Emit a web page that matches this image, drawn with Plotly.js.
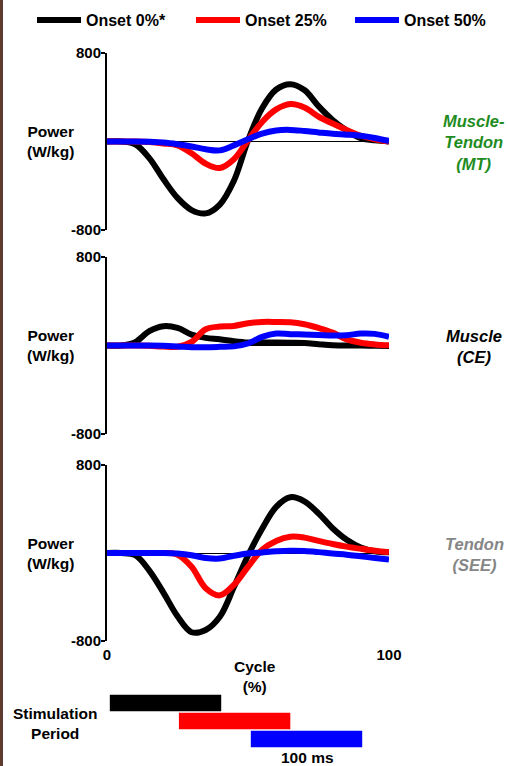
<!DOCTYPE html>
<html><head><meta charset="utf-8">
<script src="https://cdn.plot.ly/plotly-3.0.1.min.js"></script>
<style>html,body{margin:0;padding:0;background:#fff;} #chart{width:508px;height:766px;}</style>
</head><body><div id="chart"></div>
<script>
// ---- data ----
const cycle = [0,5,10,15,20,25,30,35,40,45,50,55,60,65,70,75,80,85,90,95,100];
const seriesNames = ['Onset 0%*','Onset 25%','Onset 50%'];
// Muscle-Tendon (MT) power, W/kg
const mt0  = [0,0,-25,-150,-340,-510,-620,-650,-570,-355,10,300,470,518,465,320,195,100,30,10,0];
const mt25 = [0,0,0,-5,-18,-36,-107,-200,-240,-160,10,177,290,338,307,225,162,104,52,20,0];
const mt50 = [0,0,0,-3,-10,-25,-45,-70,-80,-35,20,72,100,105,95,82,70,62,52,32,5];
// Muscle (CE) power
const ce0  = [0,0,30,129,174,159,99,69,57,39,27,27,27,25,22,12,3,0,0,-3,-5];
const ce25 = [0,0,0,-3,-10,-12,33,147,171,177,201,213,213,210,192,159,117,55,25,10,2];
const ce50 = [0,0,0,0,-3,-8,-15,-15,-12,-8,18,78,108,102,100,96,90,93,108,105,78];
// Tendon (SEE) power
const see0  = [0,0,-20,-160,-360,-575,-720,-700,-580,-310,-23,220,420,507,470,360,225,120,50,15,6];
const see25 = [0,0,0,0,0,-15,-125,-320,-385,-290,-125,30,110,148,140,110,82,58,38,20,6];
const see50 = [0,0,0,0,0,-5,-20,-45,-50,-25,-5,5,15,20,18,8,-5,-15,-30,-45,-60];
// Stimulation period (in % cycle)
const stimStart = [1, 25.5, 51];
const stimEnd   = [40.5, 65, 90.5];
const yTickVals = [-800, 800];
const yTickText = ['-800', '800'];
const xTickVals = [0, 100];
const xTickText = ['0', '100'];
const panelLabels = ['Muscle-<br>Tendon<br>(MT)', 'Muscle<br>(CE)', 'Tendon<br>(SEE)'];

// ---- styling ----
const W = 508, H = 766;
const px = v => v / W;
const py = v => 1 - v / H;
const FONT = 'Liberation Sans, Arial, sans-serif';
const colors = ['#000000', '#ff0000', '#0000ff'];
const labelColors = ['#1e8c1e', '#000000', '#868686'];
const legendWidths = [100, 100, 84];
const panelPx = [[53, 230], [257, 434], [465, 641]];
const panelData = [[mt0, mt25, mt50], [ce0, ce25, ce50], [see0, see25, see50]];

const traces = [];
panelData.forEach((set, p) => {
  set.forEach((ys, s) => {
    traces.push({
      type: 'scatter', mode: 'lines', x: cycle, y: ys,
      name: seriesNames[s], legendgroup: 'g' + s, showlegend: p === 0,
      legendwidth: legendWidths[s],
      line: {color: colors[s], width: 6, shape: 'spline', smoothing: 1},
      xaxis: 'x' + (p + 1), yaxis: 'y' + (p + 1), hoverinfo: 'skip'
    });
  });
});
traces.push({
  type: 'bar', orientation: 'h', y: seriesNames,
  x: stimStart.map((s, i) => stimEnd[i] - s), base: stimStart,
  marker: {color: colors, line: {width: 0}}, showlegend: false,
  xaxis: 'x4', yaxis: 'y4', hoverinfo: 'skip'
});

const layout = {
  width: W, height: H, margin: {l: 0, r: 0, t: 0, b: 0},
  paper_bgcolor: '#ffffff', plot_bgcolor: 'rgba(0,0,0,0)',
  font: {family: FONT, size: 15, color: '#000'},
  showlegend: true, bargap: 0.07,
  legend: {orientation: 'h', x: px(32), y: py(3), xanchor: 'left', yanchor: 'top',
    font: {family: FONT, size: 16, weight: 'bold', color: '#000'},
    entrywidthmode: 'pixels', itemwidth: 44, bgcolor: 'rgba(0,0,0,0)'},
  annotations: [], shapes: []
};
panelPx.forEach((pp, p) => {
  const i = p + 1;
  layout['xaxis' + i] = {
    domain: [px(107), px(389)], range: [0, 100], anchor: 'y' + i,
    showline: false, showgrid: false, zeroline: false, fixedrange: true,
    showticklabels: p === 2, tickvals: xTickVals, ticktext: xTickText, ticks: '',
    ticklabelstandoff: 3,
    tickfont: {family: FONT, size: 15, weight: 'bold', color: '#000'}
  };
  layout['yaxis' + i] = {
    domain: [py(pp[1]), py(pp[0])], range: [-800, 800], anchor: 'x' + i,
    showline: true, linecolor: '#000', linewidth: 2,
    ticks: 'outside', ticklen: 4, tickwidth: 2, tickcolor: '#000',
    tickvals: yTickVals, ticktext: yTickText, ticklabelstandoff: -3,
    tickfont: {family: FONT, size: 15, weight: 'bold', color: '#000'},
    showgrid: false, zeroline: true, zerolinecolor: '#000', zerolinewidth: 1, fixedrange: true
  };
  const mid = (pp[0] + pp[1]) / 2;
  layout.annotations.push({
    xref: 'paper', yref: 'paper', x: px(50), y: py(mid), xanchor: 'center', yanchor: 'middle',
    text: 'Power<br>(W/kg)', showarrow: false,
    font: {family: FONT, size: 15.5, weight: 'bold', color: '#000'}
  });
  layout.annotations.push({
    xref: 'paper', yref: 'paper', x: px(474), y: py(mid + 1), xanchor: 'center', yanchor: 'middle',
    text: panelLabels[p], showarrow: false,
    font: {family: FONT, size: 16.5, weight: 'bold', style: 'italic', color: labelColors[p]}
  });
});
layout.xaxis4 = {domain: [px(107), px(389)], range: [0, 100], anchor: 'y4', visible: false, fixedrange: true};
layout.yaxis4 = {domain: [py(748), py(694)], anchor: 'x4', type: 'category',
  categoryarray: seriesNames, autorange: 'reversed', visible: false, fixedrange: true};
layout.annotations.push(
  {xref: 'paper', yref: 'paper', x: px(255), y: py(676), xanchor: 'center', yanchor: 'middle',
   text: 'Cycle<br>(%)', showarrow: false, font: {family: FONT, size: 15.5, weight: 'bold', color: '#000'}},
  {xref: 'paper', yref: 'paper', x: px(55), y: py(723), xanchor: 'center', yanchor: 'middle',
   text: 'Stimulation<br>Period', showarrow: false, font: {family: FONT, size: 15.5, weight: 'bold', color: '#000'}},
  {xref: 'paper', yref: 'paper', x: px(307), y: py(747), xanchor: 'center', yanchor: 'top',
   text: '100 ms', showarrow: false, font: {family: FONT, size: 15.5, weight: 'bold', color: '#000'}}
);
layout.shapes.push({type: 'rect', xref: 'paper', yref: 'paper', x0: 0, x1: px(3), y0: 0, y1: 1,
  fillcolor: '#5e3d30', line: {width: 0}, layer: 'above'});

Plotly.newPlot('chart', traces, layout, {staticPlot: true, displayModeBar: false});
</script></body></html>
